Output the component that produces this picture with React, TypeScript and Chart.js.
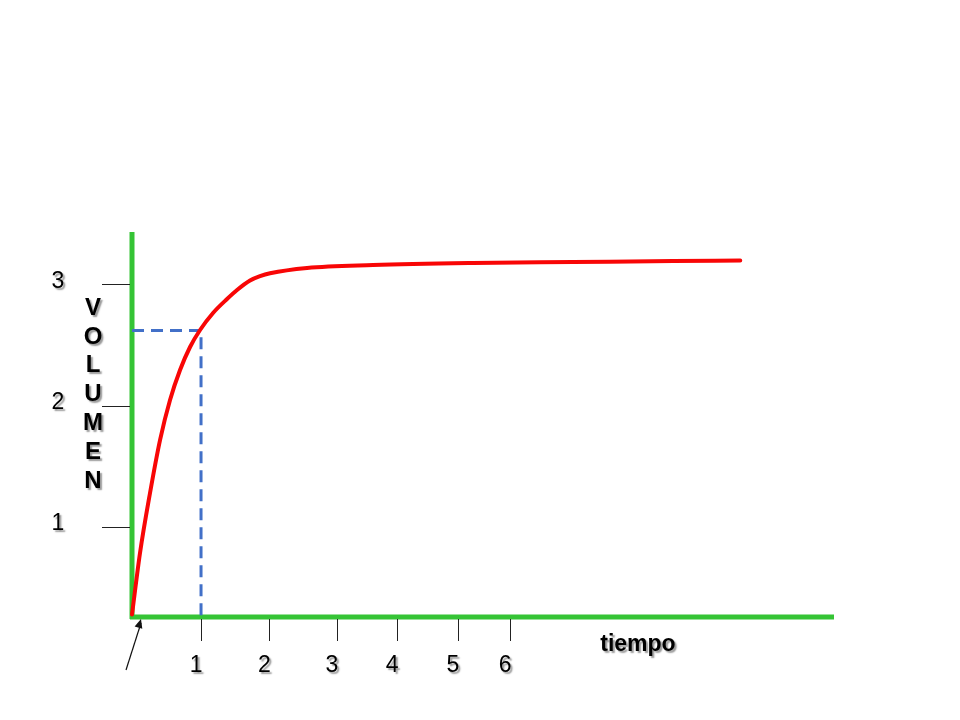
import React, { useEffect, useRef } from "react";
import { Chart, registerables } from "chart.js";

Chart.register(...registerables);

// ---- data ----
const curveX = [0, 0.116, 0.261, 0.406, 0.551, 0.696, 0.841, 0.986, 1.174, 1.377, 1.522, 1.71, 1.855, 2.0, 2.536, 3.493, 4.942, 6.391, 7.841, 8.812];
const curveY = [0.28, 0.787, 1.281, 1.717, 2.047, 2.294, 2.483, 2.623, 2.763, 2.878, 2.952, 3.03, 3.066, 3.09, 3.134, 3.158, 3.175, 3.183, 3.191, 3.195];

const xTickValues = [1.0, 1.99, 2.97, 3.84, 4.72, 5.48];
const xTickLabels = ["1", "2", "3", "4", "5", "6"];
const yTickValues = [1, 2, 3];
const yTickLabels = ["1", "2", "3"];

const markerX = 1;
const markerY = 2.62;

const xMin = 0;
const xMax = 10.17;
const yMin = 0.26;
const yMax = 3.43;

const yAxisTitle = "VOLUMEN";
const xAxisTitle = "tiempo";

const GREEN = "#35C435";
const RED = "#F80606";
const BLUE = "#4270C8";
const FONT = '"Liberation Sans", Arial, sans-serif';

const decorPlugin = {
  id: "decor",
  beforeDatasetsDraw(chart: any) {
    const { ctx, chartArea } = chart;
    const { left, right, top, bottom } = chartArea;
    ctx.save();
    ctx.strokeStyle = GREEN;
    ctx.lineWidth = 5;
    ctx.lineCap = "butt";
    ctx.beginPath();
    ctx.moveTo(left, top);
    ctx.lineTo(left, bottom + 2);
    ctx.stroke();
    ctx.beginPath();
    ctx.moveTo(left - 2, bottom);
    ctx.lineTo(right, bottom);
    ctx.stroke();
    ctx.restore();
  },
  afterDraw(chart: any) {
    const { ctx, chartArea, scales } = chart;
    const { left, top, bottom } = chartArea;
    const xs = scales.x;
    const ys = scales.y;
    ctx.save();
    // tick marks
    ctx.strokeStyle = "#222";
    ctx.lineWidth = 1;
    xTickValues.forEach((v) => {
      const px = Math.round(xs.getPixelForValue(v)) + 0.5;
      ctx.beginPath();
      ctx.moveTo(px, bottom + 2);
      ctx.lineTo(px, bottom + 24);
      ctx.stroke();
    });
    yTickValues.forEach((v) => {
      const py = Math.round(ys.getPixelForValue(v)) + 0.5;
      ctx.beginPath();
      ctx.moveTo(left - 30, py);
      ctx.lineTo(left - 2, py);
      ctx.stroke();
    });

    // arrow pointing at the origin
    const tipX = left + 9;
    const tipY = bottom + 2;
    const tailX = left - 6;
    const tailY = bottom + 53;
    ctx.strokeStyle = "#111";
    ctx.fillStyle = "#111";
    ctx.lineWidth = 1.2;
    ctx.beginPath();
    ctx.moveTo(tailX, tailY);
    ctx.lineTo(tipX, tipY + 4);
    ctx.stroke();
    const ang = Math.atan2(tipY - tailY, tipX - tailX);
    const hl = 9;
    const hw = 4;
    ctx.beginPath();
    ctx.moveTo(tipX, tipY);
    ctx.lineTo(tipX - hl * Math.cos(ang) + hw * Math.sin(ang), tipY - hl * Math.sin(ang) - hw * Math.cos(ang));
    ctx.lineTo(tipX - hl * Math.cos(ang) - hw * Math.sin(ang), tipY - hl * Math.sin(ang) + hw * Math.cos(ang));
    ctx.closePath();
    ctx.fill();

    // text with shadow
    ctx.shadowColor = "rgba(0,0,0,0.4)";
    ctx.shadowOffsetX = 2;
    ctx.shadowOffsetY = 2;
    ctx.shadowBlur = 1.5;
    ctx.fillStyle = "#000";
    ctx.textAlign = "center";
    ctx.textBaseline = "middle";

    ctx.font = `23px ${FONT}`;
    xTickValues.forEach((v, i) => {
      const px = xs.getPixelForValue(v);
      ctx.fillText(xTickLabels[i], px - 5, bottom + 49);
    });
    yTickValues.forEach((v, i) => {
      const py = ys.getPixelForValue(v);
      ctx.fillText(yTickLabels[i], left - 74, py - 3);
    });

    ctx.font = `bold 24px ${FONT}`;
    const letters = yAxisTitle.split("");
    const startY = top + 76;
    letters.forEach((ch, i) => {
      ctx.fillText(ch, left - 39, startY + i * 28.9);
    });

    ctx.font = `bold 23px ${FONT}`;
    ctx.fillText(xAxisTitle, xs.getPixelForValue(7.33), bottom + 28);
    ctx.restore();
  },
};

export default function App() {
  const canvasRef = useRef<HTMLCanvasElement | null>(null);

  useEffect(() => {
    const canvas = canvasRef.current;
    if (!canvas) return;
    const curve = curveX.map((x, i) => ({ x, y: curveY[i] }));
    const marker = [
      { x: xMin, y: markerY },
      { x: markerX, y: markerY },
      { x: markerX, y: yMin },
    ];
    const chart = new Chart(canvas, {
      type: "line",
      data: {
        datasets: [
          {
            data: marker,
            borderColor: BLUE,
            borderWidth: 3,
            borderDash: [12, 7],
            pointRadius: 0,
            tension: 0,
            fill: false,
            clip: false,
            order: 2,
          } as any,
          {
            data: curve,
            borderColor: RED,
            borderWidth: 4,
            pointRadius: 0,
            cubicInterpolationMode: "monotone",
            fill: false,
            clip: false,
            borderCapStyle: "round",
            order: 1,
          } as any,
        ],
      },
      options: {
        responsive: false,
        maintainAspectRatio: false,
        devicePixelRatio: 1,
        animation: false,
        layout: { padding: { left: 132, right: 126, top: 232, bottom: 103 } },
        scales: {
          x: { type: "linear", min: xMin, max: xMax, display: false },
          y: { type: "linear", min: yMin, max: yMax, display: false },
        },
        plugins: {
          legend: { display: false },
          tooltip: { enabled: false },
        },
      },
      plugins: [decorPlugin],
    });
    return () => chart.destroy();
  }, []);

  return (
    <div style={{ position: "absolute", left: 0, top: 0, width: 960, height: 720, background: "#fff" }}>
      <canvas ref={canvasRef} width={960} height={720} style={{ width: 960, height: 720, display: "block" }} />
    </div>
  );
}
